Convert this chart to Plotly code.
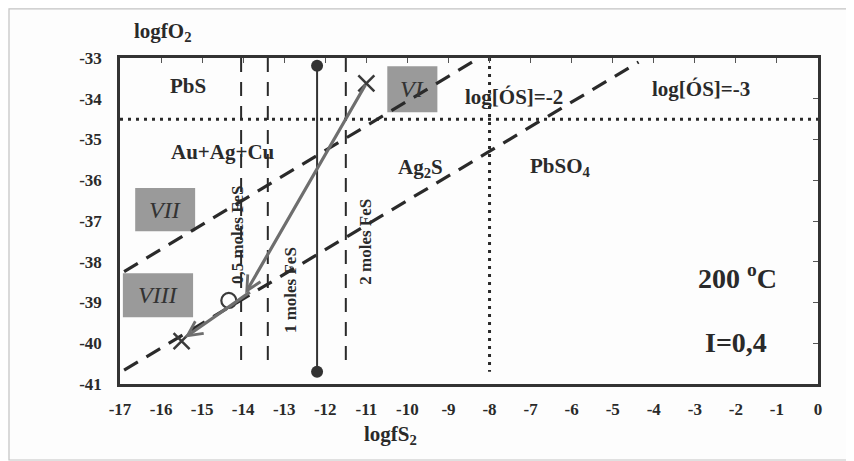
import plotly.graph_objects as go

# ---------------- data ----------------
x_ticks = list(range(-17, 1))
y_ticks = list(range(-41, -32))

# boundary lines (slope ~0.6)
bound_a_x = [-16.9, -8.42]
bound_a_y = [-38.24, -33.1]
bound_b_x = [-16.9, -4.37]
bound_b_y = [-40.66, -33.1]

# sulfate boundaries (dotted)
hdot_x = [-17, 0]
hdot_y = [-34.5, -34.5]
vdot_x = [-8, -8]
vdot_y = [-33.0, -40.7]

# FeS lines (dashed verticals)
fes_x = [-14.05, -13.4, -11.5]
fes_y = [-33.0, -40.65]
fes_labels = ["0,5 moles FeS", "1 moles FeS", "2 moles FeS"]
fes_label_x = [-14.12, -12.83, -11.02]
fes_label_y = [-37.34, -38.69, -37.52]

# solid vertical line with end points
solid_x = [-12.2, -12.2]
solid_y = [-33.19, -40.7]

# path markers
x_mark_x = [-11.0, -15.5]
x_mark_y = [-33.62, -39.95]
circ_x = [-14.35]
circ_y = [-38.95]

# arrows: (start x, start y, end x, end y)
arrow_x0 = [-11.0, -13.8]
arrow_y0 = [-33.62, -38.72]
arrow_x1 = [-13.95, -15.42]
arrow_y1 = [-38.78, -39.86]

# field labels
field_text = ["PbS", "Au+Ag+Cu", "Ag<sub>2</sub>S", "PbSO<sub>4</sub>",
              "log[ÓS]=-2", "log[ÓS]=-3"]
field_x = [-15.34, -14.49, -9.68, -6.27, -7.41, -2.85]
field_y = [-33.69, -35.31, -35.7, -35.67, -33.96, -33.76]

cond_text = ["200 <sup>o</sup>C", "I=0,4"]
cond_x = [-1.95, -2.0]
cond_y = [-38.37, -39.97]

# gray boxes with roman numerals
box_text = ["VI", "VII", "VIII"]
box_x0 = [-10.49, -16.63, -16.93]
box_x1 = [-9.27, -15.17, -15.22]
box_y0 = [-34.33, -37.25, -39.36]
box_y1 = [-33.2, -36.19, -38.28]

# ---------------- figure ----------------
FONT = "Liberation Serif"
DARK = "#2a2a2a"
GRAY_LINE = "#6e6e6e"

# page body adds ~8px offset; figure is sized to compensate
W, H = 846, 453
ML, MR, MT, MB = 112, 36, 50, 77
PW, PH = W - ML - MR, H - MT - MB

fig = go.Figure()

shapes = []
for i in range(len(box_text)):
    shapes.append(dict(type="rect", xref="x", yref="y",
                       x0=box_x0[i], x1=box_x1[i], y0=box_y0[i], y1=box_y1[i],
                       fillcolor="#9a9a9a", line=dict(width=0), layer="below"))
# outer light frame
shapes.append(dict(type="rect", xref="paper", yref="paper",
                   x0=(1 - ML) / PW, x1=(W - 1 - ML) / PW,
                   y0=((H - MB) - (H - 1)) / PH, y1=((H - MB) - 0.8) / PH,
                   line=dict(color="#c4c4c4", width=1.2), fillcolor="rgba(0,0,0,0)"))

for bx, by in [(bound_a_x, bound_a_y), (bound_b_x, bound_b_y)]:
    fig.add_trace(go.Scatter(x=bx, y=by, mode="lines",
                             line=dict(color=DARK, width=3.2, dash="16px,10px"),
                             hoverinfo="skip", showlegend=False))

fig.add_trace(go.Scatter(x=hdot_x, y=hdot_y, mode="lines",
                         line=dict(color=DARK, width=3, dash="3px,5px"),
                         hoverinfo="skip", showlegend=False))
fig.add_trace(go.Scatter(x=vdot_x, y=vdot_y, mode="lines",
                         line=dict(color=DARK, width=3, dash="3px,5px"),
                         hoverinfo="skip", showlegend=False))

for fx in fes_x:
    fig.add_trace(go.Scatter(x=[fx, fx], y=fes_y, mode="lines",
                             line=dict(color=DARK, width=2, dash="14px,10px"),
                             hoverinfo="skip", showlegend=False))

fig.add_trace(go.Scatter(x=solid_x, y=solid_y, mode="lines+markers",
                         line=dict(color="#333333", width=2),
                         marker=dict(size=12, color="#333333"),
                         hoverinfo="skip", showlegend=False))

fig.add_trace(go.Scatter(x=x_mark_x, y=x_mark_y, mode="markers",
                         marker=dict(symbol="x-thin", size=16, color="#3a3a3a",
                                     line=dict(color="#3a3a3a", width=2.5)),
                         hoverinfo="skip", showlegend=False))
fig.add_trace(go.Scatter(x=circ_x, y=circ_y, mode="markers",
                         marker=dict(symbol="circle-open", size=15, color="#3a3a3a",
                                     line=dict(color="#3a3a3a", width=2.2)),
                         hoverinfo="skip", showlegend=False))

fig.add_trace(go.Scatter(x=[-17, 0], y=[-41, -33], xaxis="x2", yaxis="y2",
                         mode="markers", marker=dict(opacity=0),
                         hoverinfo="skip", showlegend=False))

annotations = []
for i in range(len(arrow_x0)):
    annotations.append(dict(x=arrow_x1[i], y=arrow_y1[i], ax=arrow_x0[i], ay=arrow_y0[i],
                            xref="x", yref="y", axref="x", ayref="y",
                            text="", showarrow=True, arrowhead=5, arrowsize=0.9,
                            arrowwidth=3.2, arrowcolor=GRAY_LINE))
for t, x, y in zip(field_text, field_x, field_y):
    annotations.append(dict(x=x, y=y, xref="x", yref="y", text="<b>%s</b>" % t,
                            xanchor="center", yanchor="middle",
                            showarrow=False, font=dict(family=FONT, size=21, color=DARK)))
for t, x, y in zip(cond_text, cond_x, cond_y):
    annotations.append(dict(x=x, y=y, xref="x", yref="y", text="<b>%s</b>" % t,
                            xanchor="center", yanchor="middle",
                            showarrow=False, font=dict(family=FONT, size=28, color=DARK)))
for i, t in enumerate(box_text):
    annotations.append(dict(x=(box_x0[i] + box_x1[i]) / 2, y=(box_y0[i] + box_y1[i]) / 2,
                            xref="x", yref="y", text="<i>%s</i>" % t, showarrow=False,
                            xanchor="center", yanchor="middle",
                            font=dict(family=FONT, size=24, color="#333333")))
for t, x, y in zip(fes_labels, fes_label_x, fes_label_y):
    annotations.append(dict(x=x, y=y, xref="x", yref="y", text="<b>%s</b>" % t,
                            showarrow=False, textangle=-90,
                            xanchor="center", yanchor="middle",
                            font=dict(family=FONT, size=17, color=DARK)))
# axis titles
annotations.append(dict(x=(163 - 8 - ML) / PW, y=((H - MB) - (32 - 8)) / PH,
                        xref="paper", yref="paper", text="<b>logfO<sub>2</sub></b>",
                        xanchor="center", yanchor="middle",
                        showarrow=False, font=dict(family=FONT, size=21, color=DARK)))
annotations.append(dict(x=(390 - 8 - ML) / PW, y=((H - MB) - (435 - 8)) / PH,
                        xref="paper", yref="paper", text="<b>logfS<sub>2</sub></b>",
                        xanchor="center", yanchor="middle",
                        showarrow=False, font=dict(family=FONT, size=21, color=DARK)))

tickfont = dict(family=FONT, size=17, color=DARK, weight="bold")
fig.update_layout(
    width=W, height=H,
    margin=dict(l=ML, r=MR, t=MT, b=MB),
    paper_bgcolor="#fdfdfd", plot_bgcolor="#fdfdfd",
    showlegend=False,
    shapes=shapes,
    annotations=annotations,
    xaxis=dict(range=[-17, 0], tickvals=x_ticks, ticktext=[str(v) for v in x_ticks],
               showgrid=False, zeroline=False, showline=True, mirror=True,
               linecolor="#333333", linewidth=2.5, ticks="", ticklabelstandoff=8,
               tickfont=tickfont),
    yaxis=dict(range=[-41, -33], tickvals=y_ticks, ticktext=[str(v) for v in y_ticks],
               showgrid=False, zeroline=False, showline=True, mirror=True,
               linecolor="#333333", linewidth=2.5, ticks="", ticklabelstandoff=12,
               tickfont=tickfont),
    xaxis2=dict(range=[-17, 0], overlaying="x", side="top", tickvals=x_ticks,
                showticklabels=False, ticks="inside", ticklen=5, tickcolor="#555555",
                showgrid=False, zeroline=False, showline=False),
    yaxis2=dict(range=[-41, -33], overlaying="y", side="right", tickvals=y_ticks,
                showticklabels=False, ticks="inside", ticklen=5, tickcolor="#555555",
                showgrid=False, zeroline=False, showline=False),
)

fig.write_html("out.html")
